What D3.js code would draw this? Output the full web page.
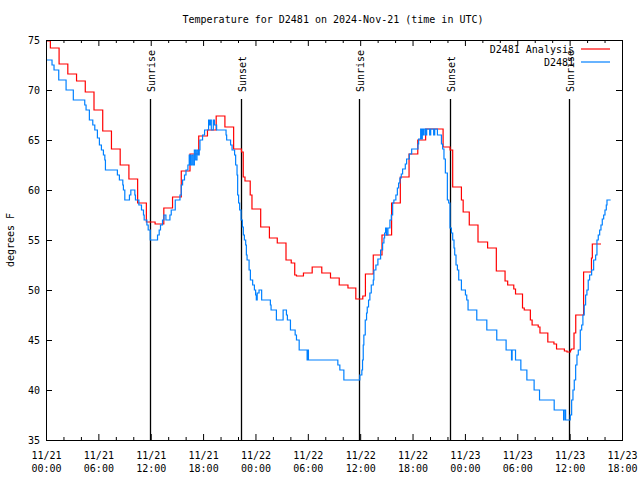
<!DOCTYPE html>
<html><head><meta charset="utf-8">
<script src="https://cdn.jsdelivr.net/npm/d3@7"></script>
<style>
body{margin:0;background:#fff}
text{font-family:"DejaVu Sans Mono",monospace;font-size:10px;fill:#000}
</style>
</head><body>
<svg id="chart" width="640" height="480"></svg>
<script>
// ---- data ----
const chartTitle = "Temperature for D2481 on 2024-Nov-21 (time in UTC)";
const yAxisLabel = "degrees F";
const seriesNames = ["D2481 Analysis", "D2481"];
const seriesColors = ["#ff0000", "#0080ff"];
const startUtc = Date.UTC(2024, 10, 21, 0, 0);
const spanHours = 66;
const yTickValues = [35, 40, 45, 50, 55, 60, 65, 70, 75];
const xTickHours = [0, 6, 12, 18, 24, 30, 36, 42, 48, 54, 60, 66];
const xTickDates = ["11/21","11/21","11/21","11/21","11/22","11/22","11/22","11/22","11/23","11/23","11/23","11/23"];
const xTickTimes = ["00:00","06:00","12:00","18:00","00:00","06:00","12:00","18:00","00:00","06:00","12:00","18:00"];
const sunEventNames = ["Sunrise","Sunset","Sunrise","Sunset","Sunrise"];
const sunEventHours = [11.95, 22.35, 35.92, 46.32, 59.96];

// [hours since 2024-11-21 00:00 UTC, deg F]
const analysisSeries = [
[0,74.9],[0.5,74.2],[1.5,72.6],[2.5,71.6],[3.5,70.9],[4.5,69.8],[5.5,68.0],[6.5,65.9],[7.5,64.1],[8.5,62.5],
[9.5,61.1],[10.5,58.7],[11.5,56.8],[12.5,56.6],[13.5,58.2],[14.5,59.3],[15.5,61.9],[16.5,63.6],[17.5,65.4],[18.5,66.0],
[19.5,67.4],[20.5,66.3],[21.5,64.1],[22.4,63.8],[22.6,61.3],[22.8,60.9],[23.4,59.5],[23.6,58.1],[24.6,56.3],[25.6,55.2],
[26.5,54.7],[27.5,53.0],[28.1,52.7],[28.5,51.5],[28.7,51.4],[29.5,51.7],[30.5,52.3],[31.6,51.7],[32.6,51.2],[33.6,50.5],
[34.6,50.2],[35.5,49.1],[36.3,49.4],[36.6,51.6],[37.5,53.5],[38.5,55.5],[39.6,58.7],[40.6,61.3],[41.6,63.6],[42.6,65.0],
[43.5,66.1],[45.5,64.3],[46.3,64.0],[46.6,60.3],[47.6,59.0],[47.8,57.8],[48.5,56.5],[49.5,54.8],[50.6,54.2],[51.6,51.9],
[52.6,50.9],[52.9,50.5],[53.6,50.1],[53.8,49.6],[54.6,48.2],[54.8,48.0],[55.5,47.0],[55.7,46.5],[56.4,46.3],[56.6,45.7],
[57.5,44.8],[58.2,44.6],[58.5,44.1],[59.4,43.9],[59.7,43.8],[60.1,44.0],[60.2,44.1],[60.5,45.7],[60.7,47.5],[61.6,51.8],
[62.5,53.2],[62.6,54.6],[63.6,54.6]
];

const observedSeries = [
[0,73.0],[0.69,72.5],[0.92,72.0],[1.46,71.0],[2.30,70.0],[3.13,69.0],[4.44,68.5],[4.59,68.0],[4.97,67.0],[5.36,66.5],
[5.59,66.0],[5.89,65.2],[6.12,64.5],[6.35,64.0],[6.58,63.5],[6.74,63.0],[6.81,62.0],[8.18,61.5],[8.41,61.0],[8.80,60.5],
[8.87,60.0],[9.03,59.0],[9.56,59.5],[9.72,60.0],[10.18,59.5],[10.25,59.0],[10.64,58.5],[10.94,58.0],[11.17,57.5],[11.25,57.0],
[11.56,56.5],[11.71,56.0],[11.94,55.0],[12.78,55.5],[12.97,56.0],[13.12,56.5],[13.35,57.0],[13.51,57.5],[13.74,57.0],[14.20,57.5],
[14.35,58.0],[14.81,59.0],[15.35,59.5],[15.50,60.5],[15.65,61.0],[15.87,61.5],[16.04,62.0],[16.26,62.5],[16.41,63.5],[16.55,62.5],
[16.70,63.5],[16.85,62.5],[17.00,64.0],[17.15,63.0],[17.30,64.0],[17.45,63.5],[17.55,64.0],[17.64,65.0],[17.94,65.5],[18.17,66.0],
[18.63,67.0],[18.69,66.5],[18.83,67.0],[18.94,66.0],[19.17,67.0],[19.30,66.5],[19.55,66.0],[20.63,65.5],[20.70,65.0],[21.15,64.5],
[21.32,64.0],[21.61,63.5],[21.73,62.5],[21.89,61.5],[21.96,59.5],[22.07,58.7],[22.19,58.0],[22.35,57.0],[22.50,56.3],[22.61,55.5],
[22.73,55.0],[22.88,54.5],[22.96,53.5],[23.04,53.0],[23.27,52.0],[23.42,51.0],[23.68,50.5],[23.88,50.0],[24.02,49.5],[24.10,49.0],
[24.20,49.7],[24.41,50.0],[24.71,49.0],[25.71,48.5],[25.79,48.0],[26.40,47.0],[27.17,48.0],[27.55,47.5],[27.66,47.0],[28.01,46.0],
[28.55,45.5],[28.70,45.0],[29.01,44.0],[29.92,43.0],[30.00,44.0],[30.07,43.0],[33.44,42.5],[33.67,42.0],[34.13,41.0],[35.96,41.5],
[36.19,42.0],[36.27,43.0],[36.35,44.5],[36.42,45.5],[36.58,47.0],[36.73,47.7],[36.81,48.3],[36.96,49.0],[37.11,49.7],[37.27,50.5],
[37.50,51.0],[37.57,52.0],[37.80,52.5],[38.03,53.1],[38.34,54.0],[38.57,54.7],[38.72,55.2],[38.80,55.7],[38.91,56.2],[39.03,55.5],
[39.18,56.2],[39.41,57.0],[39.57,57.5],[39.72,58.7],[39.86,59.0],[40.09,59.5],[40.26,60.2],[40.40,60.7],[40.55,61.2],[40.71,61.6],
[40.86,62.1],[41.17,62.6],[41.32,63.1],[41.63,63.6],[41.90,64.1],[42.62,64.6],[42.70,65.1],[42.93,66.1],[43.01,65.1],[43.12,66.1],
[43.22,65.5],[43.33,66.1],[43.50,65.5],[43.62,66.1],[43.96,65.5],[44.08,66.1],[44.42,65.5],[44.54,66.1],[44.85,65.5],[45.31,64.6],
[45.45,64.1],[45.60,63.1],[45.76,61.7],[45.99,59.0],[46.14,58.7],[46.29,56.2],[46.45,55.7],[46.60,55.0],[46.75,54.2],[46.83,53.5],
[46.98,52.5],[47.14,52.0],[47.29,51.0],[47.60,50.0],[48.06,49.5],[48.21,49.0],[48.36,48.0],[49.36,47.0],[50.51,46.0],[51.65,45.0],
[52.72,44.0],[53.34,43.0],[53.41,44.0],[53.80,43.0],[54.41,42.0],[55.10,41.0],[55.93,40.0],[56.55,39.0],[58.23,38.0],[59.31,37.0],
[59.38,38.0],[59.54,37.0],[60.07,37.5],[60.23,39.0],[60.38,40.0],[60.53,41.0],[60.69,42.5],[60.84,43.5],[60.99,44.0],[61.22,46.0],
[61.38,46.5],[61.52,47.5],[61.67,48.5],[61.83,49.5],[61.98,50.0],[62.13,51.0],[62.29,51.5],[62.52,52.0],[62.75,53.0],[62.98,53.5],
[63.13,55.0],[63.28,55.5],[63.44,56.0],[63.59,56.5],[63.74,57.1],[63.90,57.5],[64.05,58.0],[64.20,58.5],[64.28,59.0],[64.70,59.0]
];

// ---- drawing ----
const H = 3600e3;
const toDate = h => new Date(startUtc + h * H);
const L = 46, R = 622, T = 40, B = 440;
const x = d3.scaleUtc().domain([toDate(0), toDate(spanHours)]).range([L, R]);
const y = d3.scaleLinear().domain([35, 75]).range([B, T]);
const svg = d3.select("#chart");

// title
svg.append("text").attr("x", 333).attr("y", 23).attr("text-anchor", "middle").text(chartTitle);
// y label
svg.append("text").attr("transform", "translate(14,240) rotate(-90)").attr("text-anchor", "middle").text(yAxisLabel);

const majorDates = xTickHours.map(toDate);
const minorDates = d3.range(0, spanHours + 1, 2).filter(h => h % 6 !== 0).map(toDate);

function strip(g){ g.select(".domain").remove(); g.selectAll("line").attr("stroke","#000"); }

// bottom axis (inward ticks)
const gb = svg.append("g").attr("transform", `translate(0,${B})`)
  .call(d3.axisBottom(x).tickValues(majorDates).tickSizeInner(-6).tickSizeOuter(0).tickFormat(""));
strip(gb);
gb.selectAll(".tick text").each(function(d, i){
  const t = d3.select(this).attr("dy", null).attr("y", null).text(null);
  t.append("tspan").attr("x", 0).attr("y", 19).text(xTickDates[i]);
  t.append("tspan").attr("x", 0).attr("y", 32).text(xTickTimes[i]);
});
const gbm = svg.append("g").attr("transform", `translate(0,${B})`)
  .call(d3.axisBottom(x).tickValues(minorDates).tickSizeInner(-3).tickSizeOuter(0).tickFormat(""));
strip(gbm);
// top mirror ticks
const gt = svg.append("g").attr("transform", `translate(0,${T})`)
  .call(d3.axisTop(x).tickValues(majorDates).tickSizeInner(-6).tickSizeOuter(0).tickFormat(""));
strip(gt);
const gtm = svg.append("g").attr("transform", `translate(0,${T})`)
  .call(d3.axisTop(x).tickValues(minorDates).tickSizeInner(-3).tickSizeOuter(0).tickFormat(""));
strip(gtm);
// left axis
const gl = svg.append("g").attr("transform", `translate(${L},0)`)
  .call(d3.axisLeft(y).tickValues(yTickValues).tickSizeInner(-6).tickSizeOuter(0).tickPadding(6).tickFormat(d3.format("d")));
strip(gl);
gl.selectAll(".tick text").attr("x", -6);
// right mirror
const gr = svg.append("g").attr("transform", `translate(${R},0)`)
  .call(d3.axisRight(y).tickValues(yTickValues).tickSizeInner(-6).tickSizeOuter(0).tickFormat(""));
strip(gr);

// sunrise / sunset markers
const sg = svg.append("g");
sunEventHours.forEach((h, i) => {
  const sx = Math.round(x(toDate(h))) + 0.5;
  sg.append("line").attr("x1", sx).attr("x2", sx).attr("y1", 99).attr("y2", B)
    .attr("stroke", "#000").attr("stroke-width", 1.3);
  sg.append("text").attr("transform", `translate(${sx + 4.5},92) rotate(-90)`)
    .attr("text-anchor", "start").text(sunEventNames[i]);
});

// series
const line = d3.line().x(d => x(toDate(d[0]))).y(d => y(d[1])).curve(d3.curveStepAfter);
[analysisSeries, observedSeries].forEach((s, i) => {
  svg.append("path").datum(s).attr("d", line).attr("fill", "none")
    .attr("stroke", seriesColors[i]).attr("stroke-width", 1.2);
});

// legend
seriesNames.forEach((n, i) => {
  const ly = 49 + i * 13;
  svg.append("text").attr("x", 574).attr("y", ly + 4).attr("text-anchor", "end").text(n);
  svg.append("line").attr("x1", 581).attr("x2", 610).attr("y1", ly).attr("y2", ly)
    .attr("stroke", seriesColors[i]).attr("stroke-width", 1.2);
});

// border
svg.append("rect").attr("x", L + 0.5).attr("y", T + 0.5).attr("width", R - L).attr("height", B - T)
  .attr("fill", "none").attr("stroke", "#000").attr("stroke-width", 1);
</script>
</body></html>
